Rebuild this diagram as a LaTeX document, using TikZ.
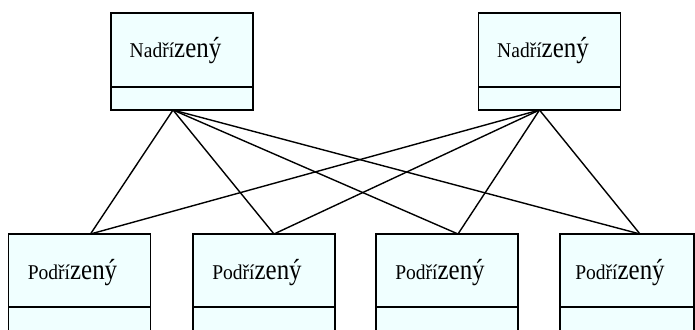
\documentclass[tikz,border=0pt]{standalone}
\usepackage{fontspec}
\setmainfont{Liberation Serif}
\newfontfamily\clsfont{Liberation Serif}
\usetikzlibrary{positioning}
\definecolor{clsfill}{HTML}{F0FFFF}
\tikzset{
  cls-name/.style={draw,fill=clsfill,rectangle,line width=1.5pt,inner sep=0pt,outer sep=0pt,minimum width=142pt},
  cls-attr/.style={draw,fill=clsfill,rectangle,line width=1.5pt,inner sep=0pt,outer sep=0pt,minimum width=142pt},
  cls-label/.style={anchor=base,inner sep=0pt,font=\clsfont},
  link/.style={line width=1.4pt,black},
}
\newcommand{\clsword}[2]{\scalebox{0.93}[1]{\fontsize{21}{21}\selectfont #1}\scalebox{0.86}[1]{\fontsize{29}{29}\selectfont #2}}

\begin{document}
\begin{tikzpicture}[x=1pt,y=-1pt]
  \useasboundingbox (0,0) rectangle (695,329);
  \clip (0,0) rectangle (695,329);

  % nadrizeni
  \node[cls-name,minimum height=74pt] (n1)  at (182,50)     {};
  \node[cls-attr,minimum height=23pt] (n1a) at (182,98.5)   {};
  \node[cls-name,minimum height=74pt] (n2)  at (549.5,50)   {};
  \node[cls-attr,minimum height=23pt] (n2a) at (549.5,98.5) {};
  \node[cls-label] (ln1) at (175.5,57) {\clsword{Nadří}{zený}};
  \node[cls-label] (ln2) at (543,57)   {\clsword{Nadří}{zený}};

  % podrizeni
  \node[cls-name,minimum height=73pt] (p1)  at (79.5,270.5) {};
  \node[cls-attr,minimum height=33pt] (p1a) at (79.5,323.5) {};
  \node[cls-name,minimum height=73pt] (p2)  at (264,270.5)  {};
  \node[cls-attr,minimum height=33pt] (p2a) at (264,323.5)  {};
  \node[cls-name,minimum height=73pt] (p3)  at (447,270.5)  {};
  \node[cls-attr,minimum height=33pt] (p3a) at (447,323.5)  {};
  \node[cls-name,minimum height=73pt,minimum width=134pt] (p4)  at (627,270.5) {};
  \node[cls-attr,minimum height=33pt,minimum width=134pt] (p4a) at (627,323.5) {};
  \node[cls-label] (lp1) at (72.5,279)  {\clsword{Podří}{zený}};
  \node[cls-label] (lp2) at (257,279)   {\clsword{Podří}{zený}};
  \node[cls-label] (lp3) at (440,279)   {\clsword{Podří}{zený}};
  \node[cls-label] (lp4) at (620,279)   {\clsword{Podří}{zený}};

  % spoje
  \coordinate (jn1) at ([xshift=-9pt]n1a.south);
  \coordinate (jn2) at ([xshift=-10pt]n2a.south);
  \coordinate (jp1) at ([xshift=11pt]p1.north);
  \coordinate (jp2) at ([xshift=10pt]p2.north);
  \coordinate (jp3) at ([xshift=11pt]p3.north);
  \coordinate (jp4) at ([xshift=13pt]p4.north);
  \foreach \t in {jn1,jn2}
    \foreach \b in {jp1,jp2,jp3,jp4}
      \draw[link] (\t) -- (\b);

\end{tikzpicture}
\end{document}
